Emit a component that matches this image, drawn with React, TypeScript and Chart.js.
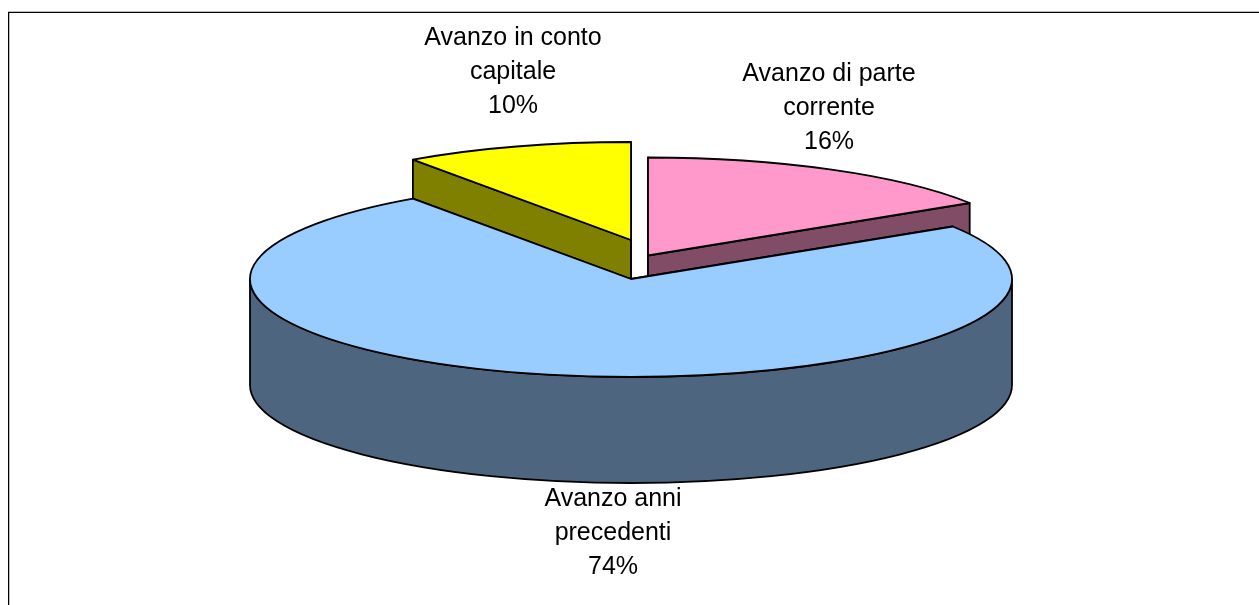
import React, { useEffect, useRef } from "react";
import { Chart, registerables } from "chart.js";

Chart.register(...registerables);

// ---- data ----
const categories = ["Avanzo di parte corrente", "Avanzo anni precedenti", "Avanzo in conto capitale"];
const values = [16, 74.3, 9.7];
const labelLines = [
  ["Avanzo di parte", "corrente", "16%"],
  ["Avanzo anni", "precedenti", "74%"],
  ["Avanzo in conto", "capitale", "10%"],
];

// ---- styles ----
const topColors = ["#FF99CC", "#99CCFF", "#FFFF00"];
const wallColors = ["#804C66", "#4E6580", "#808000"];
const apexes = [
  { x: 648, y: 255.5 },
  { x: 631, y: 279 },
  { x: 631, y: 240 },
];
const labelBaselines = [
  { x: 829, y: 81 },
  { x: 613, y: 506 },
  { x: 513, y: 45 },
];
const RX = 381;
const RY = 98;
const DEPTH = 106;
const LINE_GAP = 34;
const DRAW_ORDER = [0, 2, 1];
const FONT = '25px "Liberation Sans"';

const pie3d = {
  id: "pie3d",
  beforeDatasetDraw(chart: any) {
    const ctx: CanvasRenderingContext2D = chart.ctx;
    const arcs = chart.getDatasetMeta(0).data;
    ctx.save();
    ctx.lineWidth = 1.8;
    ctx.strokeStyle = "#000";
    ctx.lineJoin = "round";
    for (const i of DRAW_ORDER) {
      const el = arcs[i];
      const { x: cx, y: cy } = apexes[i];
      const a0 = el.startAngle;
      const a1 = el.endAngle;
      const rim = (a: number) => ({
        x: cx + RX * Math.cos(a),
        y: cy + RY * Math.sin(a),
      });

      // radial walls
      ctx.fillStyle = wallColors[i];
      for (const a of [a0, a1]) {
        const p = rim(a);
        ctx.beginPath();
        ctx.moveTo(cx, cy);
        ctx.lineTo(p.x, p.y);
        ctx.lineTo(p.x, p.y + DEPTH);
        ctx.lineTo(cx, cy + DEPTH);
        ctx.closePath();
        ctx.fill();
        ctx.stroke();
      }

      // front rim wall: the part of the arc between 0 and PI
      const f0 = Math.max(a0, 0);
      const f1 = Math.min(a1, Math.PI);
      if (f1 > f0) {
        ctx.beginPath();
        ctx.ellipse(cx, cy, RX, RY, 0, f0, f1);
        ctx.ellipse(cx, cy + DEPTH, RX, RY, 0, f1, f0, true);
        ctx.closePath();
        ctx.fill();
        ctx.stroke();
      }

      // top face: the library's own arc element, squashed
      const k = el.outerRadius;
      ctx.save();
      ctx.translate(cx, cy);
      ctx.scale(RX / k, RY / k);
      ctx.translate(-el.x, -el.y);
      el.draw(ctx);
      ctx.restore();

      ctx.beginPath();
      ctx.moveTo(cx, cy);
      ctx.ellipse(cx, cy, RX, RY, 0, a0, a1);
      ctx.closePath();
      ctx.stroke();
    }
    ctx.restore();
    return false;
  },
  afterDatasetsDraw(chart: any) {
    const ctx: CanvasRenderingContext2D = chart.ctx;
    ctx.save();
    ctx.font = FONT;
    ctx.fillStyle = "#000";
    ctx.textAlign = "center";
    ctx.textBaseline = "alphabetic";
    labelLines.forEach((lines, i) => {
      lines.forEach((t, j) => {
        ctx.fillText(t, labelBaselines[i].x, labelBaselines[i].y + j * LINE_GAP);
      });
    });
    ctx.restore();
  },
  beforeDraw(chart: any) {
    const ctx: CanvasRenderingContext2D = chart.ctx;
    ctx.save();
    ctx.fillStyle = "#fff";
    ctx.fillRect(0, 0, chart.width, chart.height);
    ctx.fillStyle = "#bbb";
    ctx.fillRect(8, 11, chart.width - 8, 1);
    ctx.fillRect(9, 12, 1, chart.height - 12);
    ctx.fillStyle = "#000";
    ctx.fillRect(8, 12, chart.width - 8, 1);
    ctx.fillRect(8, 12, 1, chart.height - 12);
    ctx.restore();
  },
};

export default function App() {
  const ref = useRef<HTMLCanvasElement>(null);
  useEffect(() => {
    document.body.style.margin = "0";
    const chart = new Chart(ref.current as HTMLCanvasElement, {
      type: "pie",
      data: {
        labels: categories,
        datasets: [{ data: values, backgroundColor: topColors, borderWidth: 0 }],
      },
      options: {
        responsive: false,
        animation: false,
        rotation: 0,
        plugins: { legend: { display: false }, tooltip: { enabled: false } },
      },
      plugins: [pie3d],
    } as any);
    return () => chart.destroy();
  }, []);
  return <canvas ref={ref} width={1259} height={605} style={{ display: "block" }} />;
}
